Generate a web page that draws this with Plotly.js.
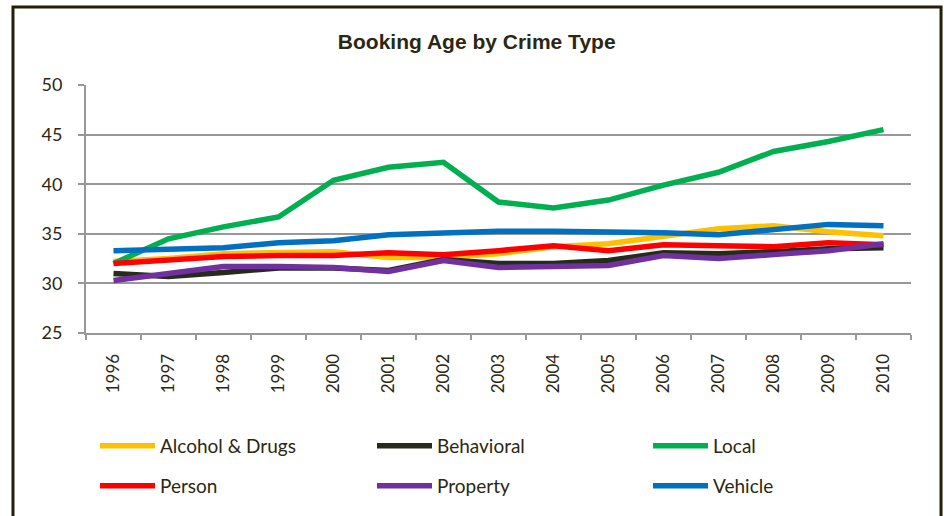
<!DOCTYPE html>
<html>
<head>
<meta charset="utf-8">
<script src="https://cdn.plot.ly/plotly-3.0.1.min.js"></script>
<style>
html,body{margin:0;padding:0;background:#fff;}
#chart{width:944px;height:516px;}
</style>
</head>
<body>
<div id="chart"></div>
<script>
const years = ['1996','1997','1998','1999','2000','2001','2002','2003','2004','2005','2006','2007','2008','2009','2010'];
const alcoholDrugs = [32.2,32.5,33.0,33.1,33.2,32.6,32.6,33.0,33.7,34.0,34.7,35.5,35.8,35.2,34.8];
const behavioral   = [31.0,30.7,31.1,31.55,31.55,31.3,32.4,32.0,32.0,32.3,33.1,33.0,33.2,33.5,33.6];
const local        = [32.0,34.5,35.7,36.7,40.4,41.7,42.2,38.2,37.6,38.4,39.9,41.2,43.3,44.3,45.5];
const person       = [32.0,32.3,32.7,32.8,32.8,33.1,32.9,33.3,33.8,33.3,33.9,33.8,33.7,34.1,33.9];
const property     = [30.3,31.0,31.7,31.7,31.6,31.2,32.3,31.6,31.7,31.8,32.8,32.5,32.9,33.3,34.0];
const vehicle      = [33.3,33.5,33.6,34.1,34.3,34.9,35.05,35.25,35.25,35.2,35.1,34.9,35.4,35.95,35.8];

const seriesNames = ['Alcohol & Drugs','Behavioral','Local','Person','Property','Vehicle'];
const seriesData = [alcoholDrugs, behavioral, local, person, property, vehicle];
const seriesColors = ['#FFC000','#262B1C','#00B050','#FF0000','#7030A0','#0070C0'];

const textColor = '#2B2711';
const gridColor = '#989898';

// legend grid: 3 columns x 2 rows (container pixels)
const legendColX = [95, 372, 648];
const legendRowY = [446, 486];

const traces = seriesNames.map((n,i)=>({
  type:'scatter', mode:'lines', name:n, x:years, y:seriesData[i],
  line:{color:seriesColors[i], width:5.5},
  legend: i===0 ? 'legend' : 'legend'+(i+1), hoverinfo:'skip'
}));

const layout = {
  width:944, height:516,
  margin:{l:86, r:33, t:85, b:183},
  paper_bgcolor:'#fff', plot_bgcolor:'#fff',
  showlegend:true,
  title:{text:'<b>Booking Age by Crime Type</b>', x:0.505, xanchor:'center', y:1-42/516, yanchor:'middle',
         font:{family:'"Liberation Sans", Arial, sans-serif', size:21, color:textColor}},
  xaxis:{type:'category', range:[-0.5,14.5], tickson:'boundaries', ticks:'outside', ticklen:5, tickwidth:2,
         tickcolor:gridColor, showgrid:false, showline:true, linecolor:gridColor, linewidth:2,
         tickangle:-90, ticklabelstandoff:12,
         tickfont:{family:'Lato, "Open Sans", sans-serif', size:17, color:textColor}},
  yaxis:{range:[25,50], dtick:5, tick0:25, showgrid:true, gridcolor:gridColor, gridwidth:2,
         showline:true, linecolor:gridColor, linewidth:2, zeroline:false,
         ticks:'outside', ticklen:6, tickwidth:2, tickcolor:gridColor, ticklabelstandoff:12,
         tickfont:{family:'Lato, "Open Sans", sans-serif', size:18, color:textColor}},
  shapes:[{type:'path', xref:'paper', yref:'paper',
    path:'M -0.0885,-0.76 L -0.0885,1.3145 L 1.0364,1.3145 L 1.0364,-0.76',
    line:{color:'#231F0A', width:3}}]
};

seriesNames.forEach((n,i)=>{
  const key = i===0 ? 'legend' : 'legend'+(i+1);
  layout[key] = {
    orientation:'h', xref:'container', yref:'container', xanchor:'left', yanchor:'middle',
    x: legendColX[i%3]/944, y: 1 - legendRowY[Math.floor(i/3)]/516,
    itemwidth:55, bgcolor:'rgba(0,0,0,0)',
    font:{family:'Lato, "Open Sans", sans-serif', size:19, color:textColor}
  };
});

Plotly.newPlot('chart', traces, layout, {staticPlot:true, displayModeBar:false});
</script>
</body>
</html>
